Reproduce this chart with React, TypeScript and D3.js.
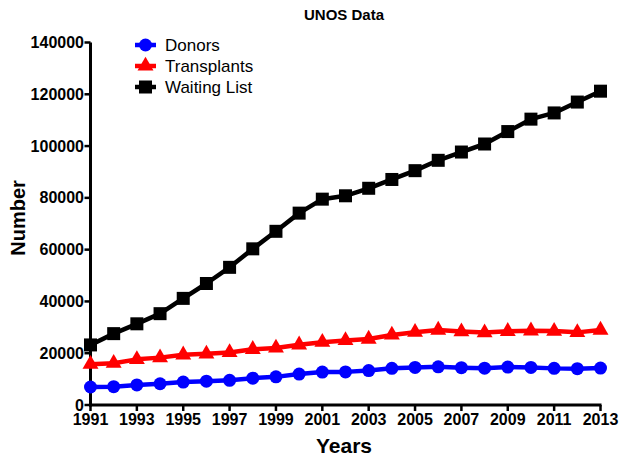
import React from "react";
import * as d3 from "d3";

const years = [1991,1992,1993,1994,1995,1996,1997,1998,1999,2000,2001,2002,2003,2004,2005,2006,2007,2008,2009,2010,2011,2012,2013];
const donors = [6953,7093,7766,8203,8852,9214,9540,10361,10866,11934,12702,12792,13285,14154,14497,14755,14400,14207,14631,14505,14145,14013,14257];
const transplants = [15756,16134,17630,18298,19396,19755,20310,21507,22017,23255,24240,24903,25469,27040,28117,28939,28355,27966,28464,28663,28535,28052,28954];
const waiting = [23198,27563,31355,35271,41179,46925,53167,60312,67079,74100,79500,80800,83700,87100,90500,94500,97700,100800,105600,110400,112800,117000,121200];
const yTicks = [0,20000,40000,60000,80000,100000,120000,140000];
const xTicks = [1991,1993,1995,1997,1999,2001,2003,2005,2007,2009,2011,2013];

const seriesList = [
  { name: "Donors", values: donors, color: "#0000ff", shape: "circle" },
  { name: "Transplants", values: transplants, color: "#ff0000", shape: "triangle" },
  { name: "Waiting List", values: waiting, color: "#000000", shape: "square" },
];

const W = 624, H = 462;
const x = d3.scaleLinear().domain([1991, 2013]).range([90.5, 600.5]);
const y = d3.scaleLinear().domain([0, 140000]).range([405, 42.5]);

function Marker({ shape, cx, cy, color }: { shape: string; cx: number; cy: number; color: string }) {
  if (shape === "circle") return <circle cx={cx} cy={cy} r={6.5} fill={color} />;
  if (shape === "square") return <rect x={cx - 6.5} y={cy - 6.5} width={13} height={13} fill={color} />;
  const s = d3.symbol().type(d3.symbolTriangle).size(110)();
  return <path d={s || ""} transform={`translate(${cx},${cy})`} fill={color} />;
}

export default function App() {
  const line = d3.line<number>().x((_, i) => x(years[i])).y((d) => y(d));
  const font = "Arial, 'Liberation Sans', sans-serif";
  return (
    <svg width={W} height={H} style={{ position: "absolute", left: 0, top: 0, background: "#fff" }} fontFamily={font}>
      <text x={344} y={20} textAnchor="middle" fontWeight="bold" fontSize={15}>UNOS Data</text>
      {/* axes */}
      <line x1={x(1991)} x2={x(1991)} y1={y(140000)} y2={y(0) + 1.5} stroke="#000" strokeWidth={3} />
      <line x1={x(1991) - 1.5} x2={x(2013) + 1} y1={y(0)} y2={y(0)} stroke="#000" strokeWidth={3} />
      {yTicks.map((t) => (
        <g key={t}>
          <line x1={x(1991) - 6} x2={x(1991)} y1={y(t)} y2={y(t)} stroke="#000" strokeWidth={2.5} />
          <text x={x(1991) - 6.5} y={y(t)} dy="0.35em" textAnchor="end" fontWeight="bold" fontSize={16}>{t}</text>
        </g>
      ))}
      {xTicks.map((t) => (
        <g key={t}>
          <line x1={x(t)} x2={x(t)} y1={y(0)} y2={y(0) + 6} stroke="#000" strokeWidth={2.5} />
          <text x={x(t)} y={y(0) + 20} textAnchor="middle" fontWeight="bold" fontSize={16}>{t}</text>
        </g>
      ))}
      <text transform={`translate(25,218) rotate(-90)`} textAnchor="middle" fontWeight="bold" fontSize={20}>Number</text>
      <text x={344} y={453} textAnchor="middle" fontWeight="bold" fontSize={21}>Years</text>
      {/* series */}
      {seriesList.map((s) => (
        <g key={s.name}>
          <path d={line(s.values) || ""} fill="none" stroke={s.color} strokeWidth={4.5} strokeLinejoin="round" />
          {s.values.map((v, i) => (
            <Marker key={i} shape={s.shape} cx={x(years[i])} cy={y(v)} color={s.color} />
          ))}
        </g>
      ))}
      {/* legend */}
      {seriesList.map((s, i) => {
        const ly = 45 + i * 21;
        return (
          <g key={s.name}>
            <line x1={135} x2={156} y1={ly} y2={ly} stroke={s.color} strokeWidth={4.5} />
            <Marker shape={s.shape} cx={145.5} cy={ly} color={s.color} />
            <text x={165} y={ly} dy="0.35em" fontSize={17}>{s.name}</text>
          </g>
        );
      })}
    </svg>
  );
}
